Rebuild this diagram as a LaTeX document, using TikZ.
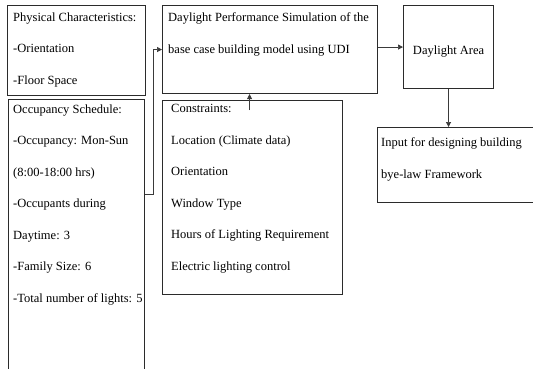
\documentclass[tikz,border=0pt]{standalone}
\usepackage{fontspec}
\setmainfont{Liberation Serif}
\usetikzlibrary{arrows.meta,positioning}
\definecolor{rand}{HTML}{2B2B2B}
\definecolor{linie}{HTML}{3A3A3A}

\begin{document}
\begin{tikzpicture}[x=1pt,y=-1pt,
  blk/.style={draw=rand,line width=1.1pt,anchor=north west,inner sep=0pt},
  txt/.style={align=left,inner sep=0pt,font=\fontsize{12.5}{31.5}\selectfont},
  pfeil/.style={draw=linie,line width=0.7pt,-{Triangle[length=5pt,width=5pt]}}]
\useasboundingbox[fill=white] (0,0) rectangle (533,369);
% Kaesten
\node[blk,minimum width=138pt,minimum height=90pt] (phys) at (7,5) {};
\node[blk,minimum width=136pt,minimum height=290pt] (occ) at (8,99) {};
\node[blk,minimum width=215pt,minimum height=88pt] (sim) at (162,5) {};
\node[blk,minimum width=180pt,minimum height=194pt] (cons) at (162,100) {};
\node[blk,minimum width=90pt,minimum height=83pt,text height=18pt,font=\fontsize{12.5}{15}\selectfont] (area) at (403,5) {Daylight Area};
\node[blk,minimum width=170pt,minimum height=75pt] (inp) at (377,127) {};
% Texte
\node[txt,below right=7.5pt and 6pt of phys.north west] (physT) {Physical Characteristics:\\-Orientation\\-Floor Space};
\node[txt,below right=5.5pt and 5pt of occ.north west] (occT) {Occupancy Schedule:\\-Occupancy: Mon-Sun\\(8:00-18:00 hrs)\\-Occupants during\\Daytime: 3\\-Family Size: 6\\-Total number of lights: 5};
\node[txt,below right=7.5pt and 6pt of sim.north west] (simT) {Daylight Performance Simulation of the\\base case building model using UDI};
\node[txt,below right=4.5pt and 9pt of cons.north west] (consT) {Constraints:\\Location (Climate data)\\Orientation\\Window Type\\Hours of Lighting Requirement\\Electric lighting control};
\node[txt,below right=10.5pt and 4pt of inp.north west] (inpT) {Input for designing building\\bye-law Framework};
% Pfeile
\coordinate (knick) at (153,194);
\draw[pfeil] (knick -| occ.east) -- (knick) |- (sim.west);
\draw[pfeil] ([xshift=-3pt,yshift=-10pt]cons.north) -- ([xshift=-3pt]cons.north |- sim.south);
\draw[pfeil] (sim.east |- area.west) -- (area.west);
\draw[pfeil] (area.south) -- (area.south |- inp.north);
\end{tikzpicture}
\end{document}
